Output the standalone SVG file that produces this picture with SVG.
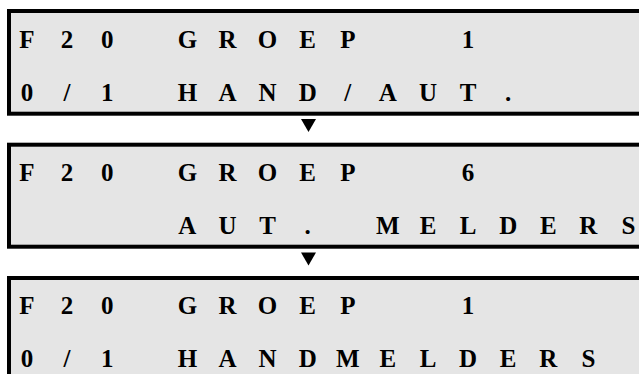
<svg xmlns="http://www.w3.org/2000/svg" width="639" height="374" viewBox="0 0 639 374">
<style>
.box{fill:#e5e5e5;stroke:#000;stroke-width:4}
.t{font-family:"Liberation Serif","Times New Roman",serif;font-weight:bold;font-size:25px;fill:#000;text-anchor:middle}
.arr{fill:#000}
</style>
<rect width="639" height="374" fill="#fff"/>
<g id="screen1">
<rect class="box" x="9" y="11" width="640" height="102.7"/>
<text class="t" x="27 67.1 107.2 147.3 187.4 227.5 267.6 307.7 347.8 387.9 468.1" y="47.5">F20 GROEP 1</text>
<text class="t" x="27 67.1 107.2 147.3 187.4 227.5 267.6 307.7 347.8 387.9 428 468.1 508.2" y="101">0/1 HAND/AUT.</text>
</g>
<g id="screen2">
<rect class="box" x="9" y="144.7" width="640" height="102"/>
<text class="t" x="27 67.1 107.2 147.3 187.4 227.5 267.6 307.7 347.8 387.9 468.1" y="181">F20 GROEP 6</text>
<text class="t" x="187.4 227.5 267.6 307.7 347.8 387.9 428 468.1 508.2 548.3 588.4 628.5" y="234">AUT. MELDERS</text>
</g>
<g id="screen3">
<rect class="box" x="9" y="278" width="640" height="102"/>
<text class="t" x="27 67.1 107.2 147.3 187.4 227.5 267.6 307.7 347.8 387.9 468.1" y="313.5">F20 GROEP 1</text>
<text class="t" x="27 67.1 107.2 147.3 187.4 227.5 267.6 307.7 347.8 387.9 428 468.1 508.2 548.3 588.4" y="366.5">0/1 HANDMELDERS</text>
</g>
<g id="connectors">
<polygon class="arr" points="301,119 316,119 308.5,132"/>
<polygon class="arr" points="301,252.5 316,252.5 308.5,265.5"/>
</g>
</svg>
